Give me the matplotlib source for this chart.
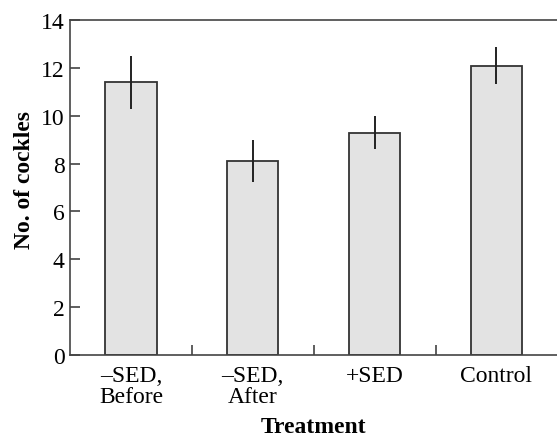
import numpy as np
import matplotlib
matplotlib.use('Agg')
import matplotlib.pyplot as plt

treatments = ['\u2013SED,\nBefore', '\u2013SED,\nAfter', '+SED', 'Control']
means = [11.4, 8.1, 9.3, 12.1]
errors = [1.1, 0.88, 0.7, 0.78]
y_ticks = [0, 2, 4, 6, 8, 10, 12, 14]

plt.rcParams['font.family'] = ['Liberation Serif', 'DejaVu Serif']
plt.rcParams['font.size'] = 17

fig = plt.figure(figsize=(5.57, 4.39), dpi=100)
ax = fig.add_axes([0.1257, 0.189, 0.875, 0.763])

x = np.arange(len(treatments))
ax.bar(x, means, width=0.42, color='#e3e3e3', edgecolor='#333333', linewidth=1.3, zorder=2)
ax.errorbar(x, means, yerr=errors, fmt='none', ecolor='#222222', elinewidth=1.4, capsize=0, zorder=3)

ax.set_xlim(-0.5, 3.5)
ax.set_ylim(0, 14)
ax.set_yticks(y_ticks)
ax.set_xticks(x)
ax.set_xticklabels(treatments, linespacing=1.0)
ax.set_xticks([0.5, 1.5, 2.5], minor=True)
ax.tick_params(axis='x', which='major', length=0, pad=7)
ax.tick_params(axis='x', which='minor', direction='in', length=7, width=1.1, color='#333333')
ax.tick_params(axis='y', direction='in', length=7, width=1.1, color='#333333', pad=4)

for side in ['left', 'top', 'bottom']:
    ax.spines[side].set_color('#444444')
    ax.spines[side].set_linewidth(1.2)
ax.spines['right'].set_visible(False)

ax.set_ylabel('No. of cockles', fontweight='bold')
ax.yaxis.set_label_coords(-0.072, 0.525)
ax.set_xlabel('Treatment', fontweight='bold', labelpad=7)

fig.savefig('out.png', dpi=100)
